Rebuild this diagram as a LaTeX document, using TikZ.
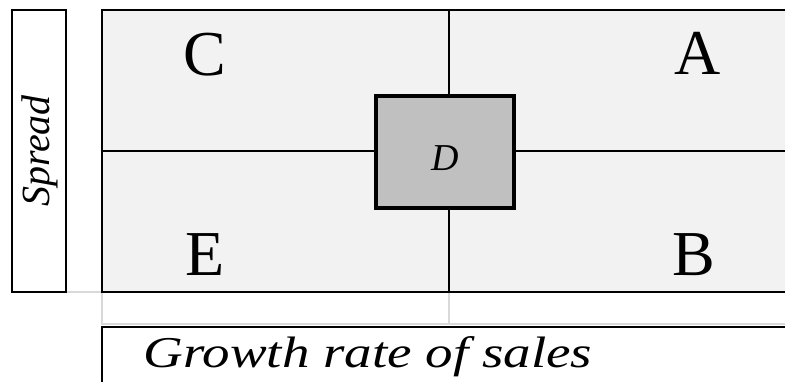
\documentclass[tikz,border=0pt]{standalone}
\usepackage{fontspec}
\setmainfont{Liberation Serif}
\definecolor{cellgray}{HTML}{F2F2F2}
\definecolor{boxgray}{HTML}{C0C0C0}
\definecolor{gridgray}{HTML}{D9D9D9}
\begin{document}
\begin{tikzpicture}[x = 1pt, y = -1pt, line width = 2pt,
		letter/.style = {font = \fontsize{64}{64}\selectfont},
		axislabel/.style = {font = \fontsize{44}{44}\selectfont\itshape\addfontfeature{FakeStretch = 1.25}}]
	\useasboundingbox (0, 0) rectangle (785, 381);
	% background of the four quadrants
	\fill[cellgray] (102, 10) rectangle (790, 292);
	% light grid lines below the quadrants
	\draw[gridgray, line width = 1.2pt] (66, 292) -- (102, 292);
	\draw[gridgray, line width = 1.2pt] (102, 292) -- (102, 325);
	\draw[gridgray, line width = 1.2pt] (449, 292) -- (449, 325);
	\draw[gridgray, line width = 1.2pt] (102, 324) -- (790, 324);
	% quadrant lines
	\draw (790, 10) -- (102, 10) -- (102, 292) -- (790, 292);
	\draw (102, 151) -- (790, 151);
	\draw (449, 10) -- (449, 292);
	% the axis boxes
	\draw (12, 10) rectangle (66, 292);
	\draw (102, 392) -- (102, 327) -- (790, 327);
	% the middle box
	\draw[fill = boxgray, line width = 4pt] (376, 96) rectangle (514, 208);
	% labels
	\node[letter] (C) at (205, 55)  {C};
	\node[letter] (A) at (698, 53)  {A};
	\node[letter] (E) at (205, 255) {E};
	\node[letter] (B) at (694, 255) {B};
	\node[font = \fontsize{38}{38}\selectfont\itshape] (D) at (445, 158) {D};
	\node[font = \fontsize{40}{40}\selectfont\itshape, rotate = 90] (spread) at (40, 151) {Spread};
	\node[axislabel] (growth) at (368, 357) {Growth rate of sales};
\end{tikzpicture}
\end{document}
